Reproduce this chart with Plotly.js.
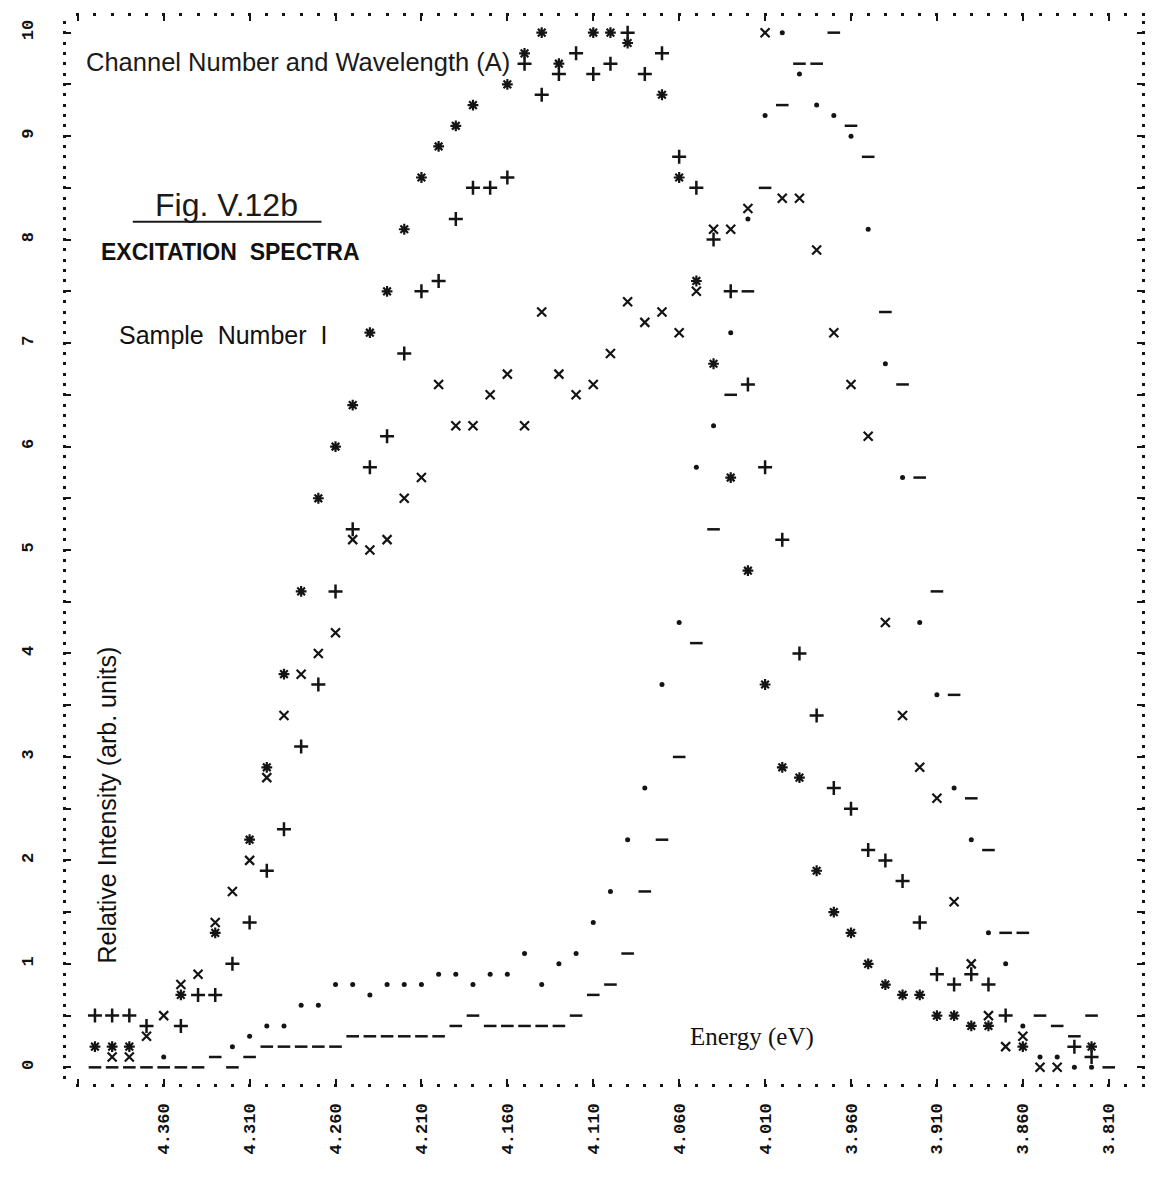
<!DOCTYPE html>
<html>
<head>
<meta charset="utf-8">
<script src="https://cdn.plot.ly/plotly-3.0.1.min.js"></script>
<style>
  html, body { margin: 0; padding: 0; background: #fff; }
  #chart { width: 1152px; height: 1192px; }
</style>
</head>
<body>
<div id="chart"></div>
<script>
// Channel energies (eV), one printer line per channel
const energy = [4.40, 4.39, 4.38, 4.37, 4.36, 4.35, 4.34, 4.33, 4.32, 4.31,
                4.30, 4.29, 4.28, 4.27, 4.26, 4.25, 4.24, 4.23, 4.22, 4.21,
                4.20, 4.19, 4.18, 4.17, 4.16, 4.15, 4.14, 4.13, 4.12, 4.11,
                4.10, 4.09, 4.08, 4.07, 4.06, 4.05, 4.04, 4.03, 4.02, 4.01,
                4.00, 3.99, 3.98, 3.97, 3.96, 3.95, 3.94, 3.93, 3.92, 3.91,
                3.90, 3.89, 3.88, 3.87, 3.86, 3.85, 3.84, 3.83, 3.82, 3.81, 3.80];

// Relative intensity for each emission setting (null = not printed)
const starSeries = [0.2, 0.2, 0.2, null, null, 0.7, null, 1.3, null, 2.2,
                    2.9, 3.8, 4.6, 5.5, 6.0, 6.4, 7.1, 7.5, 8.1, 8.6,
                    8.9, 9.1, 9.3, null, 9.5, 9.8, 10.0, 9.7, null, 10.0,
                    10.0, 9.9, null, 9.4, 8.6, 7.6, 6.8, 5.7, 4.8, 3.7,
                    2.9, 2.8, 1.9, 1.5, 1.3, 1.0, 0.8, 0.7, 0.7, 0.5,
                    0.5, 0.4, 0.4, null, 0.2, null, null, null, 0.2, null, null];

const plusSeries = [0.5, 0.5, 0.5, 0.4, null, 0.4, 0.7, 0.7, 1.0, 1.4,
                    1.9, 2.3, 3.1, 3.7, 4.6, 5.2, 5.8, 6.1, 6.9, 7.5,
                    7.6, 8.2, 8.5, 8.5, 8.6, 9.7, 9.4, 9.6, 9.8, 9.6,
                    9.7, 10.0, 9.6, 9.8, 8.8, 8.5, 8.0, 7.5, 6.6, 5.8,
                    5.1, 4.0, 3.4, 2.7, 2.5, 2.1, 2.0, 1.8, 1.4, 0.9,
                    0.8, 0.9, 0.8, 0.5, null, null, null, 0.2, 0.1, null, null];

const crossSeries = [null, 0.1, 0.1, 0.3, 0.5, 0.8, 0.9, 1.4, 1.7, 2.0,
                     2.8, 3.4, 3.8, 4.0, 4.2, 5.1, 5.0, 5.1, 5.5, 5.7,
                     6.6, 6.2, 6.2, 6.5, 6.7, 6.2, 7.3, 6.7, 6.5, 6.6,
                     6.9, 7.4, 7.2, 7.3, 7.1, 7.5, 8.1, 8.1, 8.3, 10.0,
                     8.4, 8.4, 7.9, 7.1, 6.6, 6.1, 4.3, 3.4, 2.9, 2.6,
                     1.6, 1.0, 0.5, 0.2, 0.3, 0.0, 0.0, null, null, null, null];

const dotSeries = [null, null, null, null, 0.1, null, null, null, 0.2, 0.3,
                   0.4, 0.4, 0.6, 0.6, 0.8, 0.8, 0.7, 0.8, 0.8, 0.8,
                   0.9, 0.9, 0.8, 0.9, 0.9, 1.1, 0.8, 1.0, 1.1, 1.4,
                   1.7, 2.2, 2.7, 3.7, 4.3, 5.8, 6.2, 7.1, 8.2, 9.2,
                   10.0, 9.6, 9.3, 9.2, 9.0, 8.1, 6.8, 5.7, 4.3, 3.6,
                   2.7, 2.2, 1.3, 1.0, 0.4, 0.1, 0.1, 0.0, 0.0, null, null];

const barSeries = [0.0, 0.0, 0.0, 0.0, 0.0, 0.0, 0.0, 0.1, 0.0, 0.1,
                   0.2, 0.2, 0.2, 0.2, 0.2, 0.3, 0.3, 0.3, 0.3, 0.3,
                   0.3, 0.4, 0.5, 0.4, 0.4, 0.4, 0.4, 0.4, 0.5, 0.7,
                   0.8, 1.1, 1.7, 2.2, 3.0, 4.1, 5.2, 6.5, 7.5, 8.5,
                   9.3, 9.7, 9.7, 10.0, 9.1, 8.8, 7.3, 6.6, 5.7, 4.6,
                   3.6, 2.6, 2.1, 1.3, 1.3, 0.5, 0.4, 0.3, 0.5, 0.0, null];

// Energy axis ticks (every five channels)
const energyTicks = [4.41, 4.36, 4.31, 4.26, 4.21, 4.16, 4.11, 4.06, 4.01, 3.96, 3.91, 3.86, 3.81];
const energyTickText = ['', '4.360', '4.310', '4.260', '4.210', '4.160', '4.110',
                        '4.060', '4.010', '3.960', '3.910', '3.860', '3.810'];

// Intensity axis ticks (every half unit, labelled on whole units)
const intensityTicks = [0, 0.5, 1, 1.5, 2, 2.5, 3, 3.5, 4, 4.5, 5, 5.5, 6, 6.5, 7, 7.5, 8, 8.5, 9, 9.5, 10];
const intensityTickText = ['0', '', '1', '', '2', '', '3', '', '4', '', '5', '', '6', '', '7', '', '8', '', '9', '', '10'];

const ink = '#141414';

function printed(values, symbol, size, width) {
  return {
    type: 'scatter',
    mode: 'markers',
    x: energy,
    y: values,
    showlegend: false,
    hoverinfo: 'x+y',
    marker: {
      symbol: symbol,
      size: size,
      color: ink,
      line: { color: ink, width: width }
    }
  };
}

const traces = [
  printed(barSeries, 'line-ew-open', 9, 2.5),
  printed(dotSeries, 'circle', 5, 0),
  printed(crossSeries, 'x-thin-open', 9, 2.2),
  printed(plusSeries, 'cross-thin-open', 10, 2.5),
  printed(starSeries, 'asterisk-open', 9, 2.2)
];

const monoFont = { family: 'Liberation Mono, DejaVu Sans Mono, monospace', size: 17, color: '#111', weight: 'bold' };

const layout = {
  width: 1152,
  height: 1192,
  margin: { l: 63, r: 7, t: 13, b: 105 },
  paper_bgcolor: '#ffffff',
  plot_bgcolor: '#ffffff',
  xaxis: {
    range: [4.4186, 3.7889],
    tickmode: 'array',
    tickvals: energyTicks,
    ticktext: energyTickText,
    tickangle: -90,
    tickfont: monoFont,
    ticks: 'inside',
    ticklen: 8,
    tickwidth: 2,
    tickcolor: ink,
    ticklabelstandoff: 12,
    mirror: 'allticks',
    showline: false,
    showgrid: false,
    zeroline: false,
    minor: {
      tickmode: 'linear',
      tick0: 4.40,
      dtick: 0.01,
      ticks: 'inside',
      ticklen: 3,
      tickwidth: 3,
      tickcolor: ink,
      showgrid: false
    }
  },
  yaxis: {
    range: [-0.19, 10.19],
    tickmode: 'array',
    tickvals: intensityTicks,
    ticktext: intensityTickText,
    tickangle: -90,
    tickfont: monoFont,
    ticks: 'inside',
    ticklen: 8,
    tickwidth: 2,
    tickcolor: ink,
    ticklabelstandoff: 26,
    mirror: 'allticks',
    showline: false,
    showgrid: false,
    zeroline: false,
    minor: {
      tickmode: 'linear',
      tick0: 0,
      dtick: 0.1,
      ticks: 'inside',
      ticklen: 3,
      tickwidth: 3,
      tickcolor: ink,
      showgrid: false
    }
  },
  annotations: [
    {
      text: 'Channel Number and Wavelength (A)',
      xref: 'paper', yref: 'paper', x: 0.019, y: 0.9546,
      xanchor: 'left', yanchor: 'middle', showarrow: false,
      font: { family: 'Liberation Sans, Arial, sans-serif', size: 25.5, color: '#1a1a1a' }
    },
    {
      text: 'Fig. V.12b',
      xref: 'paper', yref: 'paper', x: 0.083, y: 0.8214,
      xanchor: 'left', yanchor: 'middle', showarrow: false,
      font: { family: 'Liberation Sans, Arial, sans-serif', size: 32, color: '#1a1a1a' }
    },
    {
      text: 'EXCITATION  SPECTRA',
      xref: 'paper', yref: 'paper', x: 0.033, y: 0.7775,
      xanchor: 'left', yanchor: 'middle', showarrow: false,
      font: { family: 'Liberation Sans, Arial, sans-serif', size: 23, color: '#111', weight: 'bold' }
    },
    {
      text: 'Sample  Number  I',
      xref: 'paper', yref: 'paper', x: 0.0497, y: 0.7002,
      xanchor: 'left', yanchor: 'middle', showarrow: false,
      font: { family: 'Liberation Sans, Arial, sans-serif', size: 25, color: '#111' }
    },
    {
      text: 'Relative Intensity (arb. units)',
      xref: 'paper', yref: 'paper', x: 0.041, y: 0.2624,
      xanchor: 'center', yanchor: 'middle', showarrow: false, textangle: -90,
      font: { family: 'Liberation Sans, Arial, sans-serif', size: 25, color: '#111' }
    },
    {
      text: 'Energy (eV)',
      xref: 'paper', yref: 'paper', x: 0.6367, y: 0.0463,
      xanchor: 'center', yanchor: 'middle', showarrow: false,
      font: { family: 'Liberation Serif, DejaVu Serif, serif', size: 25, color: '#111' }
    }
  ],
  shapes: [
    {
      type: 'line', xref: 'paper', yref: 'paper',
      x0: 0.0645, x1: 0.2389, y0: 0.8056, y1: 0.8056,
      line: { color: '#1a1a1a', width: 2 }
    }
  ]
};

Plotly.newPlot('chart', traces, layout, { displayModeBar: false, staticPlot: true });
</script>
</body>
</html>
